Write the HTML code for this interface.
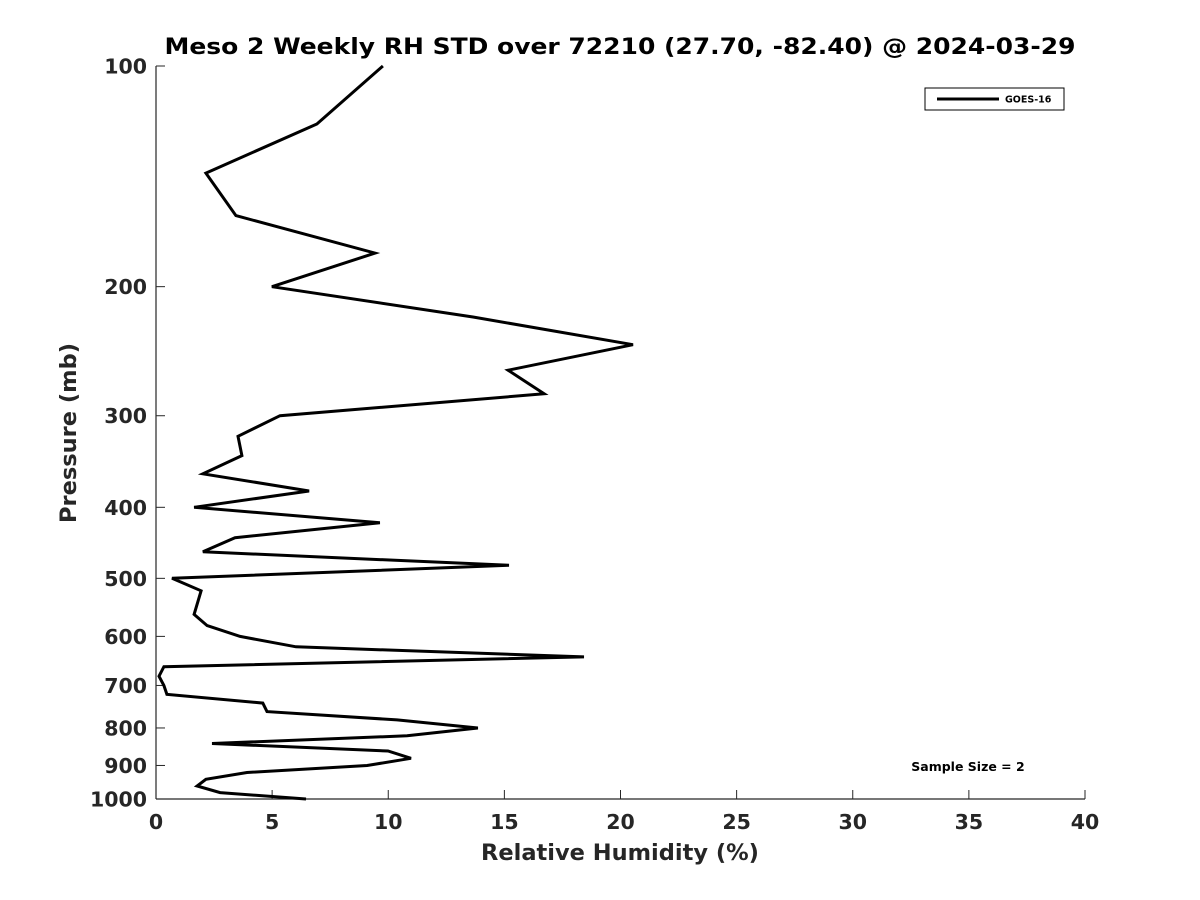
<!DOCTYPE html>
<html><head><meta charset="utf-8"><style>body{margin:0;background:#fff}svg{display:block;font-family:"DejaVu Sans","Liberation Sans",sans-serif}</style></head>
<body>
<svg id="chart" width="1200" height="900">
<rect width="1200" height="900" fill="#fff"/>
<text x="620" y="54" text-anchor="middle" font-size="22" font-weight="bold" fill="#000" textLength="911" lengthAdjust="spacingAndGlyphs">Meso 2 Weekly RH STD over 72210 (27.70, -82.40) @ 2024-03-29</text>
<g id="axes"></g>
<path id="line" fill="none" stroke="#000" stroke-width="3" stroke-linejoin="miter"/>
<g>
<rect x="925" y="88" width="139" height="22" fill="#fff" stroke="#000" stroke-width="1"/>
<line x1="937" y1="99" x2="999" y2="99" stroke="#000" stroke-width="3"/>
<text x="1005" y="102.5" font-size="9.5" font-weight="bold">GOES-16</text>
</g>
<text x="968" y="771" text-anchor="middle" font-size="12.5" font-weight="bold">Sample Size = 2</text>
<text x="620" y="860" text-anchor="middle" font-size="22.5" font-weight="bold" fill="#262626">Relative Humidity (%)</text>
<text transform="translate(76,433) rotate(-90)" text-anchor="middle" font-size="22.5" font-weight="bold" fill="#262626">Pressure (mb)</text>
</svg>
<script>
const pressures=[100,120,140,160,180,200,220,240,260,280,300,320,340,360,380,400,420,440,460,480,500,520,560,580,600,620,640,660,680,700,720,740,760,780,800,820,840,860,880,900,920,940,960,980,1000];
const rhStd=[9.77,6.93,2.15,3.44,9.43,4.99,13.65,20.54,15.16,16.71,5.34,3.53,3.70,2.02,6.59,1.64,9.64,3.40,2.02,15.2,0.69,1.94,1.64,2.2,3.62,6.03,18.43,0.34,0.13,0.34,0.47,4.6,4.78,10.38,13.86,10.81,2.41,9.99,10.98,9.09,3.92,2.15,1.77,2.76,6.46];
const xTicks=[0,5,10,15,20,25,30,35,40];
const yTicks=[100,200,300,400,500,600,700,800,900,1000];
const L=156,R=1085,T=66,B=799;
const xs=v=>L+(v-0)/(40-0)*(R-L);
const ys=p=>T+(Math.log10(p)-2)*(B-T);
const NS='http://www.w3.org/2000/svg';
const ax=document.getElementById('axes');
function mk(tag,attrs){const e=document.createElementNS(NS,tag);for(const k in attrs)e.setAttribute(k,attrs[k]);ax.appendChild(e);return e;}
let e=mk('line',{x1:L,y1:T,x2:L,y2:B,stroke:'#262626','stroke-width':1.2});


e=mk('line',{x1:L,y1:B,x2:R,y2:B,stroke:'#262626','stroke-width':1.2});


xTicks.forEach(v=>{const x=xs(v);
 mk('line',{x1:x,y1:B,x2:x,y2:B-9,stroke:'#262626','stroke-width':1});
 const t=mk('text',{x:x,y:B+30,'text-anchor':'middle','font-size':20.5,'font-weight':'bold',fill:'#262626'});t.textContent=v;
 
 });
yTicks.forEach(p=>{const y=ys(p);
 mk('line',{x1:L,y1:y,x2:L+9,y2:y,stroke:'#262626','stroke-width':1});
 const t=mk('text',{x:L-9,y:y+7.5,'text-anchor':'end','font-size':20.5,'font-weight':'bold',fill:'#262626'});t.textContent=p;
 
 });
document.getElementById('line').setAttribute('d',pressures.map((p,i)=>(i?'L':'M')+xs(rhStd[i]).toFixed(1)+','+ys(p).toFixed(1)).join(''));
</script>
</body></html>
